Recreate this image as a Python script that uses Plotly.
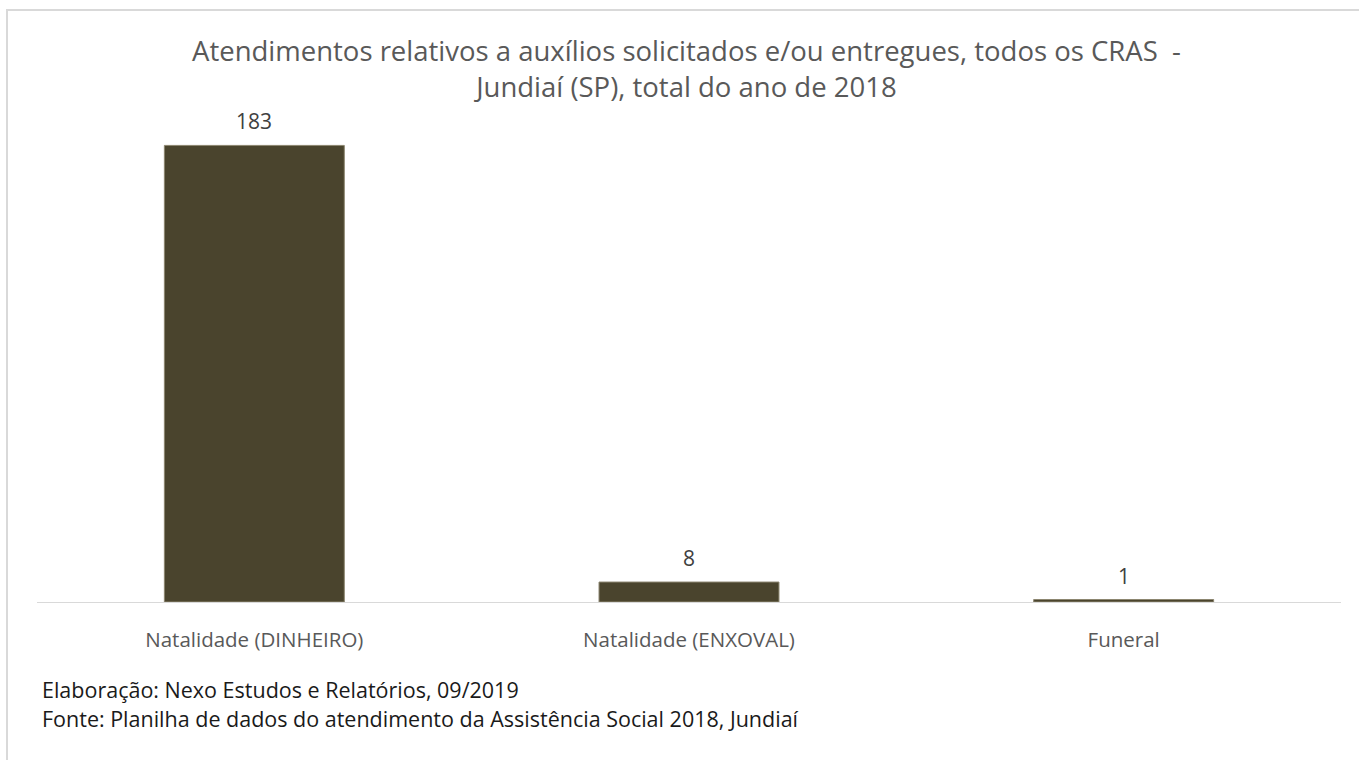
import plotly.graph_objects as go

categories = ["Natalidade (DINHEIRO)", "Natalidade (ENXOVAL)", "Funeral"]
values = [183, 8, 1]
title_text = "Atendimentos relativos a auxílios solicitados e/ou entregues, todos os CRAS  -<br>Jundiaí (SP), total do ano de 2018"
footer_lines = ["Elaboração: Nexo Estudos e Relatórios, 09/2019",
                "Fonte: Planilha de dados do atendimento da Assistência Social 2018, Jundiaí"]

W, H = 1359, 760
L, R, T, B = 37, 18, 103, 158
pw, ph = W - L - R, H - T - B

def px_x(x):
    return (x - L) / pw

def px_y(y):
    return (H - B - y) / ph

FONT = "Open Sans"

fig = go.Figure(go.Bar(
    x=categories, y=values,
    marker=dict(color="#4A442D", line=dict(color="#8C8670", width=1)),
    width=0.414,
    cliponaxis=False,
))

for c, v in zip(categories, values):
    fig.add_annotation(
        x=c, y=v, text=str(v), showarrow=False,
        xanchor="center", yanchor="middle", yshift=24,
        font=dict(family=FONT, size=21, color="#404040"),
    )

fig.update_layout(
    width=W, height=H,
    margin=dict(l=L, r=R, t=T, b=B),
    paper_bgcolor="white", plot_bgcolor="white",
    showlegend=False,
    bargap=0.586,
    xaxis=dict(showline=True, linecolor="#D9D9D9", linewidth=1, ticks="",
               tickfont=dict(family=FONT, size=20.5, color="#595959"),
               ticklabelstandoff=19,
               showgrid=False, zeroline=False, fixedrange=True),
    yaxis=dict(range=[0, 200], visible=False, showgrid=False, zeroline=False),
    font=dict(family=FONT),
)

fig.add_annotation(
    text=title_text, xref="paper", yref="paper",
    x=px_x(686), y=px_y(68), xanchor="center", yanchor="middle",
    showarrow=False, align="center",
    font=dict(family=FONT, size=27.5, color="#595959"),
)
for i, line in enumerate(footer_lines):
    fig.add_annotation(
        text=line, xref="paper", yref="paper",
        x=px_x(40), y=px_y(689.5 + 29 * i), xanchor="left", yanchor="middle",
        showarrow=False, align="left",
        font=dict(family=FONT, size=21.5, color="#1a1a1a"),
    )

fig.add_shape(type="rect", xref="paper", yref="paper",
              x0=px_x(7), x1=px_x(1370), y0=px_y(10), y1=px_y(780),
              line=dict(color="#D9D9D9", width=2), layer="below")

fig.write_html("out.html")
